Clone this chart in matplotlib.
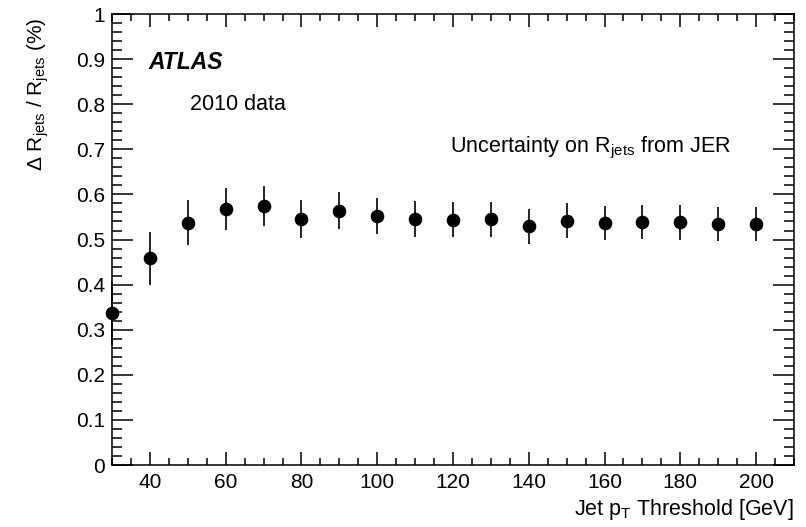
import matplotlib
matplotlib.use("Agg")
import matplotlib.pyplot as plt
from matplotlib.ticker import MultipleLocator

plt.rcParams['font.family'] = ['Liberation Sans', 'DejaVu Sans']
plt.rcParams['mathtext.fontset'] = 'custom'
plt.rcParams['mathtext.rm'] = 'Liberation Sans'
plt.rcParams['mathtext.it'] = 'Liberation Sans:italic'
plt.rcParams['mathtext.bf'] = 'Liberation Sans:bold'

# Jet pT thresholds and relative uncertainty on R_jets from JER
pt_threshold = [30, 40, 50, 60, 70, 80, 90, 100, 110, 120,
                130, 140, 150, 160, 170, 180, 190, 200]
delta_r = [0.337, 0.458, 0.537, 0.568, 0.575, 0.545, 0.564, 0.552, 0.546, 0.544,
           0.545, 0.529, 0.542, 0.537, 0.539, 0.538, 0.534, 0.535]
delta_r_err = [0.070, 0.058, 0.050, 0.047, 0.044, 0.042, 0.041, 0.040, 0.040, 0.039,
               0.039, 0.038, 0.039, 0.038, 0.038, 0.038, 0.038, 0.038]

fig = plt.figure(figsize=(8.06, 5.27), dpi=100)
ax = fig.add_axes([0.139, 0.1176, 0.846, 0.8558])

ax.errorbar(pt_threshold, delta_r, yerr=delta_r_err, fmt='o', color='black',
            markersize=8.8, elinewidth=1.2, capsize=0, clip_on=False, zorder=3)

ax.set_xlim(30, 210)
ax.set_ylim(0, 1)
ax.xaxis.set_major_locator(MultipleLocator(20))
ax.xaxis.set_minor_locator(MultipleLocator(5))
ax.yaxis.set_major_locator(MultipleLocator(0.1))
ax.yaxis.set_minor_locator(MultipleLocator(0.02))
ax.yaxis.set_major_formatter(plt.FuncFormatter(lambda v, p: '%g' % round(v, 1)))

ax.tick_params(which='both', direction='in', top=True, right=True,
               labelsize=15, width=1.1, colors='black')
ax.tick_params(axis='x', which='major', length=9.5, pad=6)
ax.tick_params(axis='x', which='minor', length=5)
ax.tick_params(axis='y', which='major', length=15, pad=5)
ax.tick_params(axis='y', which='minor', length=7.5)
for sp in ax.spines.values():
    sp.set_linewidth(1.1)

# axis titles placed ROOT-style at the far ends of the axes
ax.text(1.0, -0.098, r'Jet p$_{\rm T}$ Threshold [GeV]', transform=ax.transAxes,
        fontsize=15.5, ha='right', va='center')
ax.text(-0.1085, 0.991, r'$\Delta$ R$_{\rm jets}$ / R$_{\rm jets}$ (%)', transform=ax.transAxes,
        fontsize=15, rotation=90, ha='center', va='top')

ax.text(0.053, 0.893, 'ATLAS', transform=ax.transAxes, fontsize=16.5,
        fontweight='bold', fontstyle='italic', va='center')
ax.text(0.114, 0.800, '2010 data', transform=ax.transAxes, fontsize=15.5, va='center')
ax.text(0.495, 0.703, r'Uncertainty on R$_{\rm jets}$ from JER', transform=ax.transAxes,
        fontsize=15.5, va='center')

fig.savefig('out.png', dpi=100)
